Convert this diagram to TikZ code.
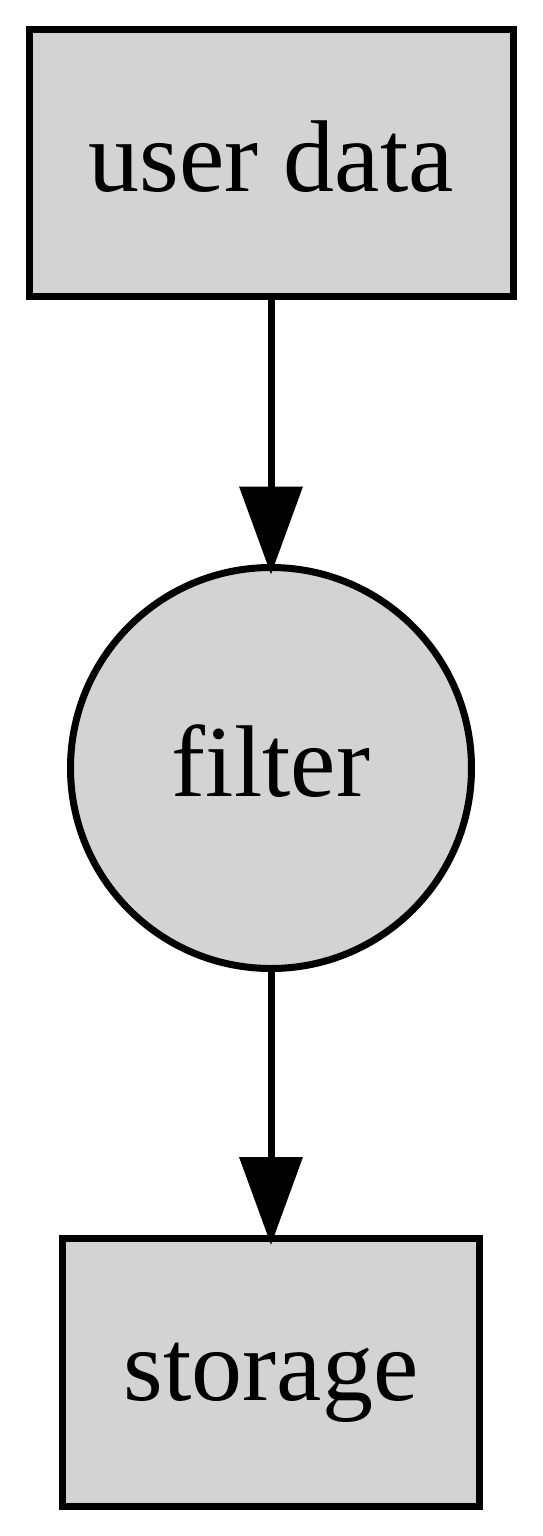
\documentclass[tikz,border=0pt]{standalone}
\usepackage{fontspec}
\setmainfont{Liberation Serif}
\usetikzlibrary{arrows.meta,shapes.geometric}
\definecolor{gvgray}{HTML}{D3D3D3}
\tikzset{
  gvnode/.style={draw=black, fill=gvgray, line width=7pt, inner sep=0pt, outer sep=0pt,
    font=\fontsize{102}{122}\selectfont, text height=71pt, text depth=15pt},
  gvbox/.style={gvnode, rectangle},
  gvcirc/.style={gvnode, circle},
  gvedge/.style={draw=black, line width=7pt, -{Triangle[length=88pt,width=62pt]}, shorten >=-7pt}
}
\begin{document}
\begin{tikzpicture}[x=1pt,y=-1pt]
\useasboundingbox (0,0) rectangle (543,1536);
\node[gvbox, minimum width=484pt, minimum height=267pt] (user) at (271,163) {user data};
\node[gvcirc, minimum size=401pt] (filter) at (271,768) {filter};
\node[gvbox, minimum width=417pt, minimum height=268pt] (storage) at (271,1372) {storage};
\draw[gvedge] (user) -- (filter);
\draw[gvedge] (filter) -- (storage);
\end{tikzpicture}
\end{document}
